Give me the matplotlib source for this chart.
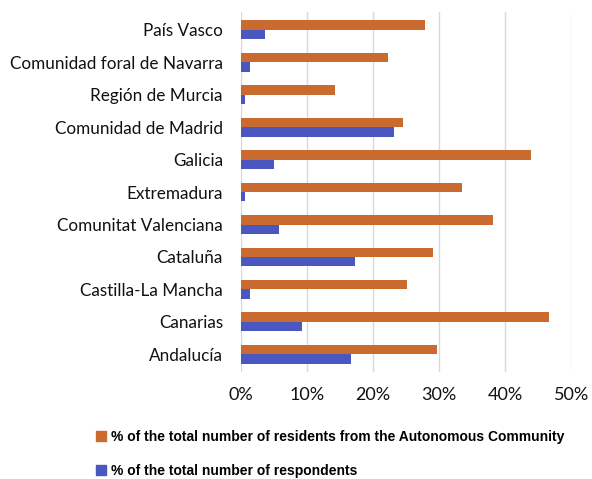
import matplotlib
matplotlib.use('Agg')
import matplotlib.pyplot as plt
import numpy as np
from matplotlib.patches import Patch
from matplotlib.ticker import PercentFormatter

regions = ['Andalucía', 'Canarias', 'Castilla-La Mancha', 'Cataluña',
           'Comunitat Valenciana', 'Extremadura', 'Galicia',
           'Comunidad de Madrid', 'Región de Murcia',
           'Comunidad foral de Navarra', 'País Vasco']
residents = [29.6, 46.6, 25.1, 29.0, 38.2, 33.4, 43.9, 24.5, 14.3, 22.3, 27.9]
respondents = [16.6, 9.3, 1.4, 17.3, 5.8, 0.65, 5.0, 23.1, 0.65, 1.4, 3.7]

orange = '#C96B2F'
blue = '#4A57C0'

fig = plt.figure(figsize=(5.92, 4.79), dpi=100)
ax = fig.add_axes([0.407, 0.223, 0.558, 0.752])

y = np.arange(len(regions))
h = 0.29
ax.barh(y + h / 2, residents, height=h, color=orange)
ax.barh(y - h / 2, respondents, height=h, color=blue)

ax.set_xlim(0, 50)
ax.set_ylim(-0.55, len(regions) - 0.45)
ax.set_xticks(np.arange(0, 51, 10))
ax.xaxis.set_major_formatter(PercentFormatter(decimals=0))
ax.set_yticks(y)
ax.set_yticklabels(regions)
ax.grid(axis='x', color='#d9d9d9', linewidth=1)
ax.set_axisbelow(True)
for s in ax.spines.values():
    s.set_visible(False)
ax.tick_params(length=0, labelsize=12.3, labelcolor='#111111')
ax.tick_params(axis='y', pad=13)
ax.tick_params(axis='x', pad=11, labelsize=13)
for t in ax.get_xticklabels() + ax.get_yticklabels():
    t.set_family('Lato')

handles = [Patch(color=orange), Patch(color=blue)]
labels = ['% of the total number of residents from the Autonomous Community',
          '% of the total number of respondents']
fig.legend(handles, labels, loc='upper left', bbox_to_anchor=(0.163, 0.103),
           frameon=False, handlelength=0.7, handleheight=0.7, handletextpad=0.35,
           labelspacing=1.45, borderaxespad=0, borderpad=0,
           prop={'family': 'Liberation Sans', 'weight': 'bold', 'size': 10})

fig.savefig('out.png', dpi=100)
